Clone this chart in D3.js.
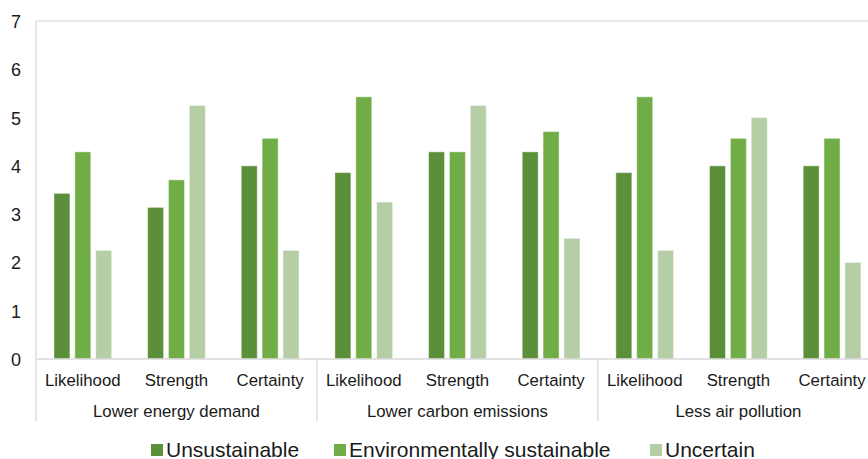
<!DOCTYPE html>
<html>
<head>
<meta charset="utf-8">
<script src="https://cdn.jsdelivr.net/npm/d3@7"></script>
<style>
  html, body { margin: 0; padding: 0; background: #fff; }
  svg { display: block; font-family: "Liberation Sans", Arial, sans-serif; }
</style>
</head>
<body>
<svg id="chart" width="868" height="459"></svg>
<script>
// Ratings grouped by outcome, then by dimension
const groups = ["Lower energy demand", "Lower carbon emissions", "Less air pollution"];
const dimensions = ["Likelihood", "Strength", "Certainty"];
const seriesNames = ["Unsustainable", "Environmentally sustainable", "Uncertain"];
const seriesColors = ["#5b8f3a", "#70ad47", "#b5cea5"];

// One value per group × dimension, in the order above
const unsustainable = [3.43, 3.14, 4.00, 3.86, 4.29, 4.29, 3.86, 4.00, 4.00];
const sustainable   = [4.29, 3.71, 4.57, 5.43, 4.29, 4.71, 5.43, 4.57, 4.57];
const uncertain     = [2.25, 5.25, 2.25, 3.25, 5.25, 2.50, 2.25, 5.00, 2.00];
const yTicks = [0, 1, 2, 3, 4, 5, 6, 7];

const seriesValues = [unsustainable, sustainable, uncertain];

const rows = [];
groups.forEach((g, gi) => {
  dimensions.forEach((d, di) => {
    const i = gi * dimensions.length + di;
    rows.push({
      key: i,
      group: g,
      dim: d,
      values: seriesNames.map((s, si) => ({ series: s, si, value: seriesValues[si][i] }))
    });
  });
});

const svg = d3.select("#chart");
const plotLeft = 36, plotTop = 21, plotBottom = 359;
const band = 93.65;

const x0 = d3.scaleBand()
  .domain(rows.map(r => r.key))
  .range([plotLeft, plotLeft + band * rows.length])
  .paddingInner(0).paddingOuter(0);

const x1 = d3.scaleBand()
  .domain(seriesNames)
  .range([0, x0.bandwidth()])
  .paddingInner(0.234)
  .paddingOuter(0.86);

const y = d3.scaleLinear().domain([0, 7]).range([plotBottom, plotTop]);

const gridColor = "#d9d9d9";

// Plot area frame: top edge
svg.append("line")
  .attr("x1", plotLeft).attr("x2", 868)
  .attr("y1", y(7)).attr("y2", y(7))
  .attr("stroke", "#e3e3e3").attr("stroke-width", 1.3);

// Y axis labels
const yAxis = d3.axisLeft(y).tickValues(yTicks).tickSize(0).tickPadding(0).tickFormat(d3.format("d"));
const yg = svg.append("g").attr("transform", "translate(21,0)").call(yAxis);
yg.select(".domain").remove();
yg.selectAll("text")
  .attr("font-size", 18)
  .attr("font-family", "Liberation Sans, Arial, sans-serif")
  .attr("fill", "#1a1a1a")
  .attr("dy", "0.36em");

// Bars
const cat = svg.append("g").selectAll("g")
  .data(rows).join("g")
  .attr("transform", d => `translate(${x0(d.key)},0)`);

cat.selectAll("rect")
  .data(d => d.values).join("rect")
  .attr("x", d => x1(d.series))
  .attr("width", x1.bandwidth())
  .attr("y", d => y(d.value))
  .attr("height", d => y(0) - y(d.value))
  .attr("fill", d => seriesColors[d.si])
  .attr("stroke", "rgba(255,255,255,0.45)")
  .attr("stroke-width", 1);

// Category axis line
svg.append("line")
  .attr("x1", plotLeft).attr("x2", 868)
  .attr("y1", plotBottom).attr("y2", plotBottom)
  .attr("stroke", gridColor).attr("stroke-width", 1.5);

// Left frame line, extending through the label rows
svg.append("line")
  .attr("x1", plotLeft).attr("x2", plotLeft)
  .attr("y1", plotTop).attr("y2", 421)
  .attr("stroke", gridColor).attr("stroke-width", 1.3);

// Group separators
groups.forEach((g, gi) => {
  if (gi === 0) return;
  const xs = x0(gi * dimensions.length);
  svg.append("line")
    .attr("x1", xs).attr("x2", xs)
    .attr("y1", plotBottom).attr("y2", 421)
    .attr("stroke", gridColor).attr("stroke-width", 1.3);
});

// Dimension labels
svg.append("g").selectAll("text")
  .data(rows).join("text")
  .attr("x", d => x0(d.key) + x0.bandwidth() / 2)
  .attr("y", 385.7)
  .attr("text-anchor", "middle")
  .attr("font-size", 16.8)
  .attr("fill", "#1a1a1a")
  .text(d => d.dim);

// Group labels
svg.append("g").selectAll("text")
  .data(groups).join("text")
  .attr("x", (g, gi) => x0(gi * dimensions.length) + x0.bandwidth() * dimensions.length / 2)
  .attr("y", 416.7)
  .attr("text-anchor", "middle")
  .attr("font-size", 16.8)
  .attr("fill", "#1a1a1a")
  .text(d => d);

// Legend
const legendX = [151, 334, 650];
const legend = svg.append("g").selectAll("g")
  .data(seriesNames).join("g")
  .attr("transform", (d, i) => `translate(${legendX[i]},444)`);
legend.append("rect")
  .attr("width", 12).attr("height", 12)
  .attr("fill", (d, i) => seriesColors[i]);
legend.append("text")
  .attr("x", 15).attr("y", 13.3)
  .attr("font-size", 21)
  .attr("fill", "#1a1a1a")
  .text(d => d);
</script>
</body>
</html>
